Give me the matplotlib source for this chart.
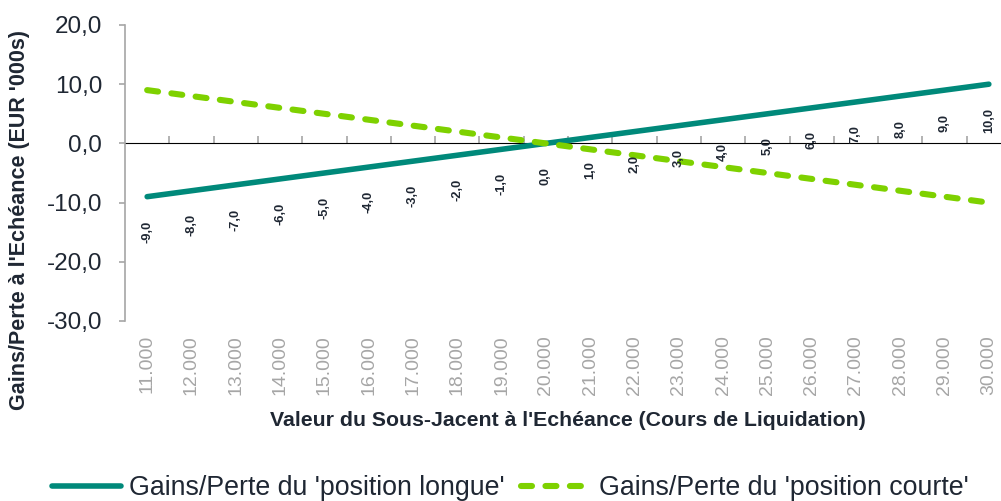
import matplotlib
matplotlib.use('Agg')
import matplotlib.pyplot as plt
import numpy as np

plt.rcParams['font.family'] = ['Liberation Sans', 'DejaVu Sans']

# underlying value at expiry (categories) and P/L series in EUR '000s
strikes = ['11.000', '12.000', '13.000', '14.000', '15.000', '16.000', '17.000',
           '18.000', '19.000', '20.000', '21.000', '22.000', '23.000', '24.000',
           '25.000', '26.000', '27.000', '28.000', '29.000', '30.000']
long_pl = [-9, -8, -7, -6, -5, -4, -3, -2, -1, 0, 1, 2, 3, 4, 5, 6, 7, 8, 9, 10]
short_pl = [9, 8, 7, 6, 5, 4, 3, 2, 1, 0, -1, -2, -3, -4, -5, -6, -7, -8, -9, -10]
y_ticks = [20, 10, 0, -10, -20, -30]

colors = {
    'long': '#00897A',
    'short': '#7ED100',
    'axis': '#A6A6A6',
    'text': '#1F2733',
}

W, H = 1001, 501
fig = plt.figure(figsize=(W / 100, H / 100), dpi=100)
ax = fig.add_axes([125 / W, 1 - 321 / H, 886 / W, 296 / H])

x = np.arange(len(strikes))
ax.plot(x, long_pl, color=colors['long'], lw=4, solid_capstyle='round',
        label="Gains/Perte du 'position longue'")
ax.plot(x, short_pl, color=colors['short'], lw=4.4, dash_capstyle='round',
        dashes=(1.8, 2.2), label="Gains/Perte du 'position courte'")

# data labels for the long position
for xi, v in zip(x, long_pl):
    ax.annotate(f"{v:.1f}".replace('.', ','), (xi, v), xytext=(0, -17),
                textcoords='offset points', rotation=90, ha='center', va='top',
                fontsize=9.3, fontweight='bold', color=colors['text'])

ax.set_xlim(-0.5, len(strikes) - 0.5)
ax.set_ylim(-30, 20)
ax.set_yticks(y_ticks)
ax.set_yticklabels([f"{t:.1f}".replace('.', ',') for t in y_ticks])
ax.set_xticks(x)
ax.set_xticklabels(strikes, rotation=90)

for s in ['top', 'right', 'bottom']:
    ax.spines[s].set_visible(False)
ax.spines['left'].set_color(colors['axis'])
ax.spines['left'].set_linewidth(1.2)
ax.tick_params(axis='y', length=4.5, width=1.2, color=colors['axis'],
               labelsize=17.5, labelcolor=colors['text'], pad=12)
ax.tick_params(axis='x', length=0, labelsize=14, labelcolor=colors['axis'], pad=10)

# category axis drawn at y=0 with ticks between categories
sec = ax.secondary_xaxis(0.6)
sec.set_xticks(x[:-1] + 0.5)
sec.set_xticklabels([])
sec.spines['bottom'].set_color(colors['axis'])
sec.spines['bottom'].set_linewidth(1.5)
sec.tick_params(axis='x', length=5, width=1.2, color=colors['axis'])

ax.set_ylabel("Gains/Perte à l'Echéance (EUR '000s)", fontsize=15.5,
              fontweight='bold', color=colors['text'])
ax.yaxis.set_label_coords(-0.107, 0.341)
fig.text(568 / W, 1 - 420 / H,
         "Valeur du Sous-Jacent à l'Echéance (Cours de Liquidation)",
         ha='center', va='center', fontsize=15.3, fontweight='bold',
         color=colors['text'])

fig.legend(loc='center', bbox_to_anchor=(510 / W, 1 - 488 / H), ncol=2,
           frameon=False, fontsize=19.3, handlelength=2.6, handletextpad=0.3,
           columnspacing=0.6, labelcolor=colors['text'])

fig.savefig('out.png', dpi=100)
